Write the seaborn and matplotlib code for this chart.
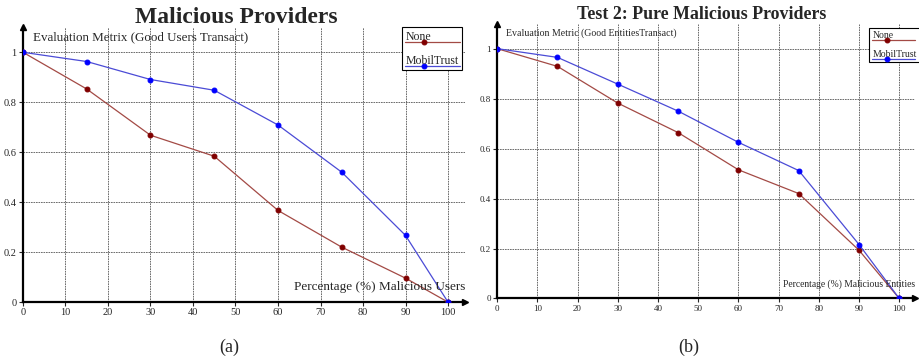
import numpy as np
import pandas as pd
import matplotlib
matplotlib.use("Agg")
import matplotlib.pyplot as plt
import seaborn as sns
from matplotlib.legend_handler import HandlerLine2D

# ===============================
# DATA
# ===============================
pct = [0, 15, 30, 45, 60, 75, 90, 100]

# (a) Malicious Providers
a_none = [1.0, 0.853, 0.668, 0.584, 0.367, 0.220, 0.096, 0.0]
a_mobil = [1.0, 0.963, 0.891, 0.848, 0.709, 0.520, 0.267, 0.0]

# (b) Test 2: Pure Malicious Providers
b_none = [1.0, 0.929, 0.782, 0.664, 0.515, 0.420, 0.193, 0.0]
b_mobil = [1.0, 0.965, 0.858, 0.750, 0.625, 0.512, 0.216, 0.0]

series_names = ["None", "MobilTrust"]
x_ticks = [0, 10, 20, 30, 40, 50, 60, 70, 80, 90, 100]
y_ticks = [0, 0.2, 0.4, 0.6, 0.8, 1.0]
y_tick_labels = ["0", "0.2", "0.4", "0.6", "0.8", "1"]

titles = ["Malicious Providers", "Test 2: Pure Malicious Providers"]
y_texts = ["Evaluation Metrix (Good Users Transact)",
           "Evaluation Metric (Good EntitiesTransact)"]
x_texts = ["Percentage (%) Malicious Users",
           "Percentage (%) Malicious Entities"]
captions = ["(a)", "(b)"]

line_colors = ["#A34A45", "#4B4BD6"]
marker_colors = ["#800000", "#0000FF"]

sns.set_style("white")
plt.rcParams["font.family"] = ["Liberation Serif", "DejaVu Serif"]


class UnderTextHandler(HandlerLine2D):
    # draw the legend sample line under its label, marker left of centre
    def create_artists(self, legend, orig_handle, xdescent, ydescent,
                       width, height, fontsize, trans):
        arts = super().create_artists(legend, orig_handle, xdescent, ydescent,
                                      width, height, fontsize, trans)
        for a in arts:
            y0 = float(np.asarray(a.get_ydata(), dtype=float)[0]) - 0.75 * height
            x0 = -xdescent
            a.set_xdata([x0, x0 + 0.35 * width, x0 + width])
            a.set_ydata([y0, y0, y0])
            a.set_markevery([1])
        return arts


fig = plt.figure(figsize=(9.19, 3.64), dpi=100)
axes = [fig.add_axes([0.025, 0.170, 0.481, 0.755]),
        fig.add_axes([0.541, 0.180, 0.455, 0.755])]

panels = [(a_none, a_mobil), (b_none, b_mobil)]
tick_size = [7.5, 6.5]
legend_size = [8.5, 7.0]
handle_len = [4.6, 4.4]
ylab_size = [9.4, 7.1]
xlab_size = [9.5, 6.9]
title_size = [17, 12.9]
title_x = [0.482, 0.488]
leg_anchor = [(0.857, 1.0), (0.89, 0.983)]

for i, ax in enumerate(axes):
    vals = panels[i]
    for j, name in enumerate(series_names):
        df = pd.DataFrame({"pct": pct, "val": vals[j]})
        sns.lineplot(data=df, x="pct", y="val", ax=ax, color=line_colors[j],
                     linewidth=0.9, marker="o", markersize=3.5,
                     markerfacecolor=marker_colors[j],
                     markeredgecolor=marker_colors[j], label=name,
                     zorder=3)

    ax.set_xlim(0, 104)
    ax.set_ylim(0, 1.1)
    ax.set_xticks(x_ticks)
    ax.set_yticks(y_ticks)
    ax.set_yticklabels(y_tick_labels)
    ax.set_xlabel("")
    ax.set_ylabel("")
    ax.tick_params(labelsize=tick_size[i], length=3, width=0.8, pad=1.5,
                   bottom=True, left=True)

    # grid
    ax.grid(True, color="#555555", linestyle=(0, (2, 1)), linewidth=0.6)
    ax.set_axisbelow(True)

    # axes with arrows
    for s in ["top", "right"]:
        ax.spines[s].set_visible(False)
    for s in ["left", "bottom"]:
        ax.spines[s].set_color("black")
        ax.spines[s].set_linewidth(1.6)
    ax.plot(1, 0, ">k", markersize=5, transform=ax.get_yaxis_transform(),
            clip_on=False)
    ax.plot(0, 1, "^k", markersize=5, transform=ax.get_xaxis_transform(),
            clip_on=False)

    # in-plot axis labels
    ax.text(0.022, 0.965, y_texts[i], transform=ax.transAxes,
            fontsize=ylab_size[i], ha="left", va="center")
    ax.text(1.0, 0.035, x_texts[i], transform=ax.transAxes,
            fontsize=xlab_size[i], ha="right", va="bottom")

    ax.set_title(titles[i], fontsize=title_size[i], fontweight="bold", pad=3,
                 x=title_x[i])

    handles, labels = ax.get_legend_handles_labels()
    leg = ax.legend(handles, labels, loc="upper left",
                    bbox_to_anchor=leg_anchor[i], fontsize=legend_size[i],
                    handler_map={h: UnderTextHandler() for h in handles},
                    handlelength=handle_len[i], handletextpad=-handle_len[i],
                    labelspacing=1.0, borderpad=0.3, borderaxespad=0,
                    fancybox=False, framealpha=1, edgecolor="black")
    leg.get_frame().set_linewidth(0.8)

fig.text(0.250, 0.045, captions[0], fontsize=13, ha="center", va="center")
fig.text(0.749, 0.045, captions[1], fontsize=13, ha="center", va="center")

fig.savefig("out.png", dpi=100)
